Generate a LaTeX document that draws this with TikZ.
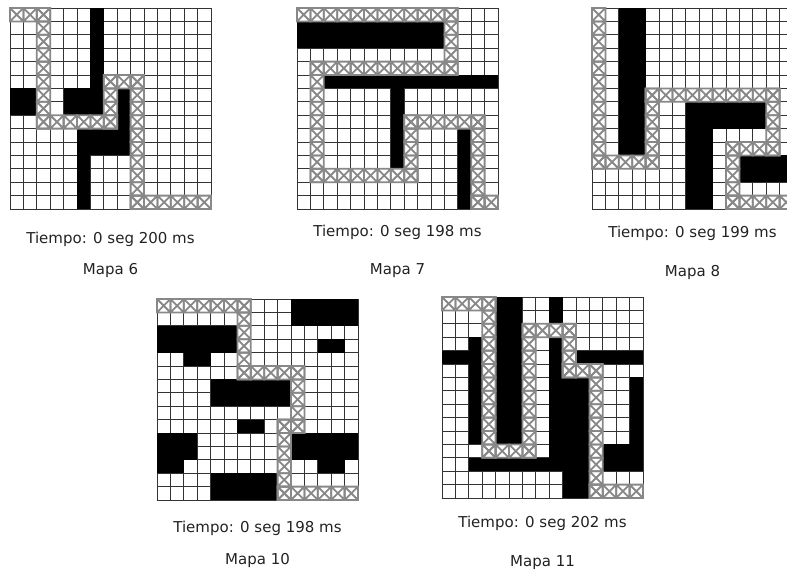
\documentclass[tikz,border=0pt]{standalone}
\usepackage{fontspec}
\setmainfont{DejaVu Sans}
\definecolor{rejilla}{HTML}{333333}
\definecolor{camino}{HTML}{888888}
\definecolor{texto}{HTML}{222222}

\begin{document}
\begin{tikzpicture}[x=1pt,y=-1pt,
    celda/.style={draw=rejilla,line width=0.9pt},
    paso/.style={draw=camino,line width=1.8pt},
    rotulo/.style={anchor=base,inner sep=0pt,text=texto,font=\fontsize{15}{18}\selectfont}]
  \useasboundingbox (0,0) rectangle (787,571);
  \clip (0,0) rectangle (787,571);

  % each map: where it sits, its walls, and the cells of the path
  \foreach \mx/\my/\negros/\ruta in {%
    10/8/{6/0/6/7, 0/6/1/7, 4/6/6/7, 8/6/8/10, 5/9/8/10, 5/11/5/14}/%
      {0/0/2/0, 2/0/2/8, 2/8/7/8, 7/5/7/8, 7/5/9/5, 9/5/9/14, 9/14/14/14},
    297/8/{0/1/10/2, 2/5/14/5, 7/6/7/11, 12/9/12/14}/%
      {0/0/11/0, 11/0/11/4, 1/4/11/4, 1/4/1/12, 1/12/8/12, 8/8/8/12, 8/8/13/8, 13/8/13/14, 13/14/14/14},
    592/8/{2/0/3/10, 7/7/12/8, 7/9/8/14, 11/11/14/12}/%
      {0/0/0/11, 0/11/4/11, 4/6/4/11, 4/6/13/6, 13/6/13/10, 10/10/13/10, 10/10/10/14, 10/14/14/14},
    157/299/{10/0/14/1, 0/2/5/3, 12/3/13/3, 2/4/3/4, 4/6/9/7, 6/9/7/9, 0/10/2/11, 10/10/14/11, 0/12/1/12, 12/12/13/12, 4/13/8/14}/%
      {0/0/6/0, 6/0/6/5, 6/5/10/5, 10/5/10/9, 9/9/10/9, 9/9/9/14, 9/14/14/14},
    442/297/{4/0/5/10, 8/0/8/1, 8/3/8/12, 9/6/10/14, 2/3/2/10, 0/4/2/4, 10/4/14/4, 14/6/14/12, 12/11/14/12, 2/12/10/12}/%
      {0/0/3/0, 3/0/3/11, 3/11/6/11, 6/2/6/11, 6/2/9/2, 9/2/9/5, 9/5/11/5, 11/5/11/14, 11/14/14/14}}{
    \begin{scope}[shift={(\mx,\my)},x=13.4pt,y=-13.4pt]
      \foreach \i in {0,...,15}{
        \draw[celda] (\i,0) -- (\i,15);
        \draw[celda] (0,\i) -- (15,\i);}
      \foreach \ca/\ra/\cb/\rb in \negros
        \fill (\ca,\ra) rectangle (\cb+1,\rb+1);
      \foreach \ca/\ra/\cb/\rb in \ruta
        \foreach \c in {\ca,...,\cb}
          \foreach \r in {\ra,...,\rb}
            \draw[paso] (\c,\r) rectangle ++(1,1) (\c,\r) -- ++(1,1) (\c+1,\r) -- ++(-1,1);
    \end{scope}}

  \foreach \n/\cx/\ty/\ms/\by in {6/110.5/243/200/274, 7/397.5/236/198/274,
      8/692.5/237/199/276, 10/257.5/532.7/198/564.3, 11/542.5/527.7/202/566}{
    \node[rotulo] (tiempo\n) at (\cx,\ty) {Tiempo: 0 seg \ms\ ms};
    \node[rotulo] (mapa\n) at (\cx,\by) {Mapa \n};}
\end{tikzpicture}
\end{document}
